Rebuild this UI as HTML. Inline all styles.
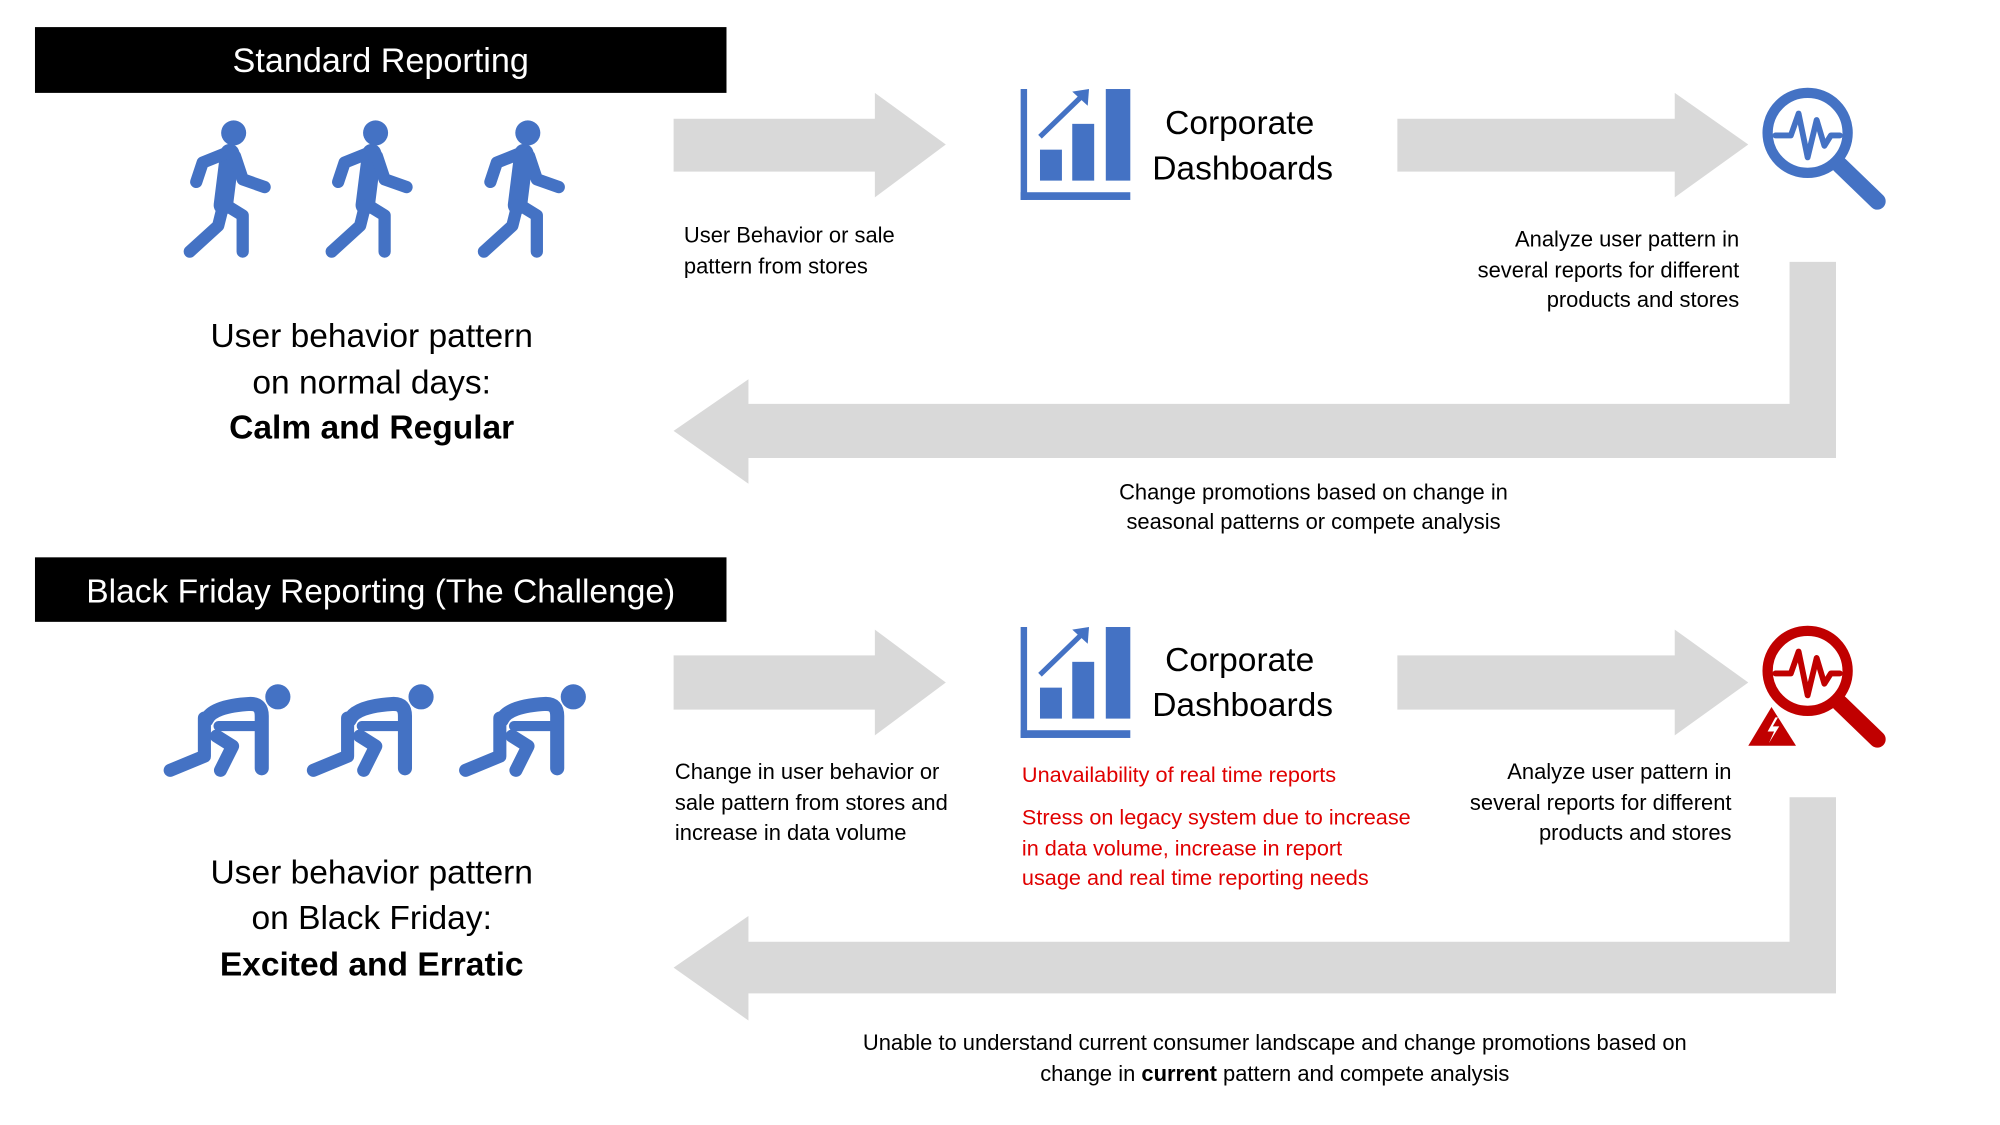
<!DOCTYPE html>
<html><head><meta charset="utf-8"><style>
html,body{margin:0;padding:0;background:#fff;width:2000px;height:1125px;overflow:hidden}
svg{display:block}
text{font-family:"Liberation Sans",sans-serif}
</style></head><body>
<svg width="2000" height="1125" viewBox="0 0 1550 872" xmlns="http://www.w3.org/2000/svg">
<defs>
<g id="walk" fill="none" stroke="#4472C4" stroke-width="9.5" stroke-linecap="round" stroke-linejoin="round">
 <circle cx="38" cy="8" r="9.7" fill="#4472C4" stroke="none"/>
 <path d="M35,24 L30,64" stroke-width="15"/>
 <path d="M34,23 L14,31 L9,46"/>
 <path d="M39,26 L45,44 L62,50"/>
 <path d="M30,64 L26,80 L4,100"/>
 <path d="M32,64 L45,72 L45,100"/>
</g>
<g id="crouch" fill="none" stroke="#4472C4" stroke-width="13" stroke-linecap="round" stroke-linejoin="round">
 <circle cx="117" cy="13" r="12.5" fill="#4472C4" stroke="none"/>
 <path d="M46,36 Q52,22 90,20 Q101,20 101,32 L101,84" stroke-width="14"/>
 <path d="M44,34 L44,72 L10,86"/>
 <path d="M58,42 L101,42" stroke-width="10"/>
 <path d="M56,52 L72,62 L60,86"/>
</g>
<g id="dash" fill="#4472C4">
 <rect x="0" y="0" width="5" height="86"/>
 <rect x="0" y="80" width="85" height="6"/>
 <rect x="15" y="47" width="17" height="24"/>
 <rect x="40" y="27" width="17" height="44"/>
 <rect x="66" y="0" width="19" height="71"/>
 <path d="M15,37 L47,6" stroke="#4472C4" stroke-width="4" fill="none"/>
 <path d="M40,2 L53,0 L52,13 Z"/>
</g>
<g id="mag" fill="none" stroke-linecap="round" stroke-linejoin="round">
 <circle cx="35" cy="37" r="31" stroke-width="8"/>
 <path d="M60,62 L89,90" stroke-width="13"/>
 <path d="M10,39 L22,39 L28,22 L35,56 L42,27 L48,47 L53,39 L60,39" stroke-width="4.5"/>
</g>
</defs>

<!-- Section 1 -->
<rect x="27" y="21" width="536" height="51" fill="#000"/>
<text x="295" y="56" fill="#fff" font-size="26.5" text-anchor="middle">Standard Reporting</text>
<use href="#walk" x="143" y="95"/>
<use href="#walk" x="253" y="95"/>
<use href="#walk" x="371" y="95"/>
<g font-size="26" text-anchor="middle" fill="#000">
<text x="288" y="269">User behavior pattern</text>
<text x="288" y="305">on normal days:</text>
<text x="288" y="340" font-weight="bold">Calm and Regular</text>
</g>
<path d="M522,92 L678,92 L678,72 L733,112 L678,153 L678,133 L522,133 Z" fill="#D9D9D9"/>
<g font-size="17" fill="#000">
<text x="530" y="188">User Behavior or sale</text>
<text x="530" y="212">pattern from stores</text>
</g>
<use href="#dash" x="791" y="69"/>
<g font-size="26" fill="#000">
<text x="903" y="104">Corporate</text>
<text x="893" y="139">Dashboards</text>
</g>
<path d="M1083,92 L1298,92 L1298,72 L1355,112 L1298,153 L1298,133 L1083,133 Z" fill="#D9D9D9"/>
<use href="#mag" x="1366" y="66" stroke="#4472C4"/>
<g font-size="17" fill="#000" text-anchor="end">
<text x="1348" y="191">Analyze user pattern in</text>
<text x="1348" y="215">several reports for different</text>
<text x="1348" y="238">products and stores</text>
</g>
<path d="M1387,203 L1423,203 L1423,355 L580,355 L580,375 L522,334 L580,294 L580,313 L1387,313 Z" fill="#D9D9D9"/>
<g font-size="17" fill="#000" text-anchor="middle">
<text x="1018" y="387">Change promotions based on change in</text>
<text x="1018" y="410">seasonal patterns or compete analysis</text>
</g>

<!-- Section 2 -->
<rect x="27" y="432" width="536" height="50" fill="#000"/>
<text x="295" y="467" fill="#fff" font-size="26" text-anchor="middle">Black Friday Reporting (The Challenge)</text>
<use href="#crouch" x="124" y="530" transform="translate(124,530) scale(0.78) translate(-124,-530)"/>
<use href="#crouch" x="235" y="530" transform="translate(235,530) scale(0.78) translate(-235,-530)"/>
<use href="#crouch" x="353" y="530" transform="translate(353,530) scale(0.78) translate(-353,-530)"/>
<g font-size="26" text-anchor="middle" fill="#000">
<text x="288" y="685">User behavior pattern</text>
<text x="288" y="720">on Black Friday:</text>
<text x="288" y="756" font-weight="bold">Excited and Erratic</text>
</g>
<path d="M522,508 L678,508 L678,488 L733,529 L678,570 L678,550 L522,550 Z" fill="#D9D9D9"/>
<g font-size="17" fill="#000">
<text x="523" y="604">Change in user behavior or</text>
<text x="523" y="628">sale pattern from stores and</text>
<text x="523" y="651">increase in data volume</text>
</g>
<use href="#dash" x="791" y="486"/>
<g font-size="26" fill="#000">
<text x="903" y="520">Corporate</text>
<text x="893" y="555">Dashboards</text>
</g>
<g font-size="16.8" fill="#E00000">
<text x="792" y="606">Unavailability of real time reports</text>
<text x="792" y="639">Stress on legacy system due to increase</text>
<text x="792" y="663">in data volume, increase in report</text>
<text x="792" y="686">usage and real time reporting needs</text>
</g>
<path d="M1083,508 L1298,508 L1298,488 L1355,529 L1298,570 L1298,550 L1083,550 Z" fill="#D9D9D9"/>
<use href="#mag" x="1366" y="483" stroke="#C00000"/>
<path d="M1373,548 L1392,578 L1355,578 Z" fill="#C00000"/>
<path d="M1376,556 L1370,567 L1375,567 L1371,576 L1379,563 L1374,563 L1378,556 Z" fill="#fff"/>
<g font-size="17" fill="#000" text-anchor="end">
<text x="1342" y="604">Analyze user pattern in</text>
<text x="1342" y="628">several reports for different</text>
<text x="1342" y="651">products and stores</text>
</g>
<path d="M1387,618 L1423,618 L1423,770 L580,770 L580,791 L522,750 L580,710 L580,730 L1387,730 Z" fill="#D9D9D9"/>
<g font-size="17" fill="#000" text-anchor="middle">
<text x="988" y="814">Unable to understand current consumer landscape and change promotions based on</text>
<text x="988" y="838">change in <tspan font-weight="bold">current</tspan> pattern and compete analysis</text>
</g>
</svg>
</body></html>
